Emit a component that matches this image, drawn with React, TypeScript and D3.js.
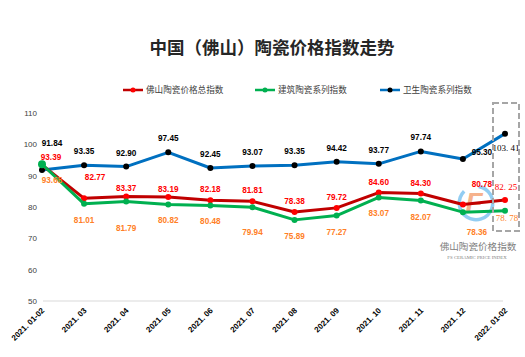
import React from "react";
import * as d3 from "d3";

const categories = ["2021.01-02", "2021.03", "2021.04", "2021.05", "2021.06", "2021.07", "2021.08", "2021.09", "2021.10", "2021.11", "2021.12", "2022.01-02"];
const totalIndex = [93.39, 82.77, 83.37, 83.19, 82.18, 81.81, 78.38, 79.72, 84.60, 84.30, 80.78, 82.25];
const buildingIndex = [93.65, 81.01, 81.79, 80.82, 80.48, 79.94, 75.89, 77.27, 83.07, 82.07, 78.36, 78.78];
const sanitaryIndex = [91.84, 93.35, 92.90, 97.45, 92.45, 93.07, 93.35, 94.42, 93.77, 97.74, 95.30, 103.41];
const yTicks = [50, 60, 70, 80, 90, 100, 110];
const seriesNames = ["佛山陶瓷价格总指数", "建筑陶瓷系列指数", "卫生陶瓷系列指数"];

const W = 525, H = 357;

type Series = {
  name: string; values: number[]; line: string; marker: string; label: string;
  dy: number; over: Record<number, [number, number]>;
};

const series: Series[] = [
  { name: seriesNames[2], values: sanitaryIndex, line: "#0070C0", marker: "#000000", label: "#000000", dy: -14,
    over: { 0: [10, -27], 10: [19, -7], 11: [1, 14] } },
  { name: seriesNames[0], values: totalIndex, line: "#C00000", marker: "#FF0000", label: "#FF0000", dy: -11,
    over: { 0: [9, -8], 1: [11, -21], 2: [0, -8], 3: [0, -8], 10: [19, -21], 11: [1, -13] } },
  { name: seriesNames[1], values: buildingIndex, line: "#00B050", marker: "#00B050", label: "#FF7F27", dy: 16,
    over: { 0: [10, 16], 2: [0, 27], 5: [0, 25], 10: [14, 20], 11: [2, 7] } },
];

const fmt = (v: number, i: number) => (i === 11 ? v.toFixed(2).replace(".", ". ") : v.toFixed(2));

export default function App() {
  const x = d3.scalePoint<string>().domain(categories).range([42, 505]);
  const y = d3.scaleLinear().domain([50, 110]).range([301, 113]);
  const line = d3.line<number>().x((_, i) => x(categories[i])!).y((d) => y(d));
  const arc = d3.arc()({ innerRadius: 15, outerRadius: 18.5, startAngle: Math.PI * 0.05, endAngle: Math.PI * 1.75 }) as string;

  const legendItems = [
    { s: series[1], x0: 123 },
    { s: series[2], x0: 255 },
    { s: series[0], x0: 380 },
  ];

  return (
    <svg width={W} height={H} viewBox={`0 0 ${W} ${H}`}
      style={{ position: "absolute", left: 0, top: 0, background: "#fff", fontFamily: "'Liberation Sans', Arial, sans-serif" }}>
      <rect width={W} height={H} fill="#fff" />
      <text x={272} y={54} textAnchor="middle" fontSize={17.5} fontWeight="bold" fill="#262626"
        style={{ fontFamily: "'Noto Sans CJK SC', sans-serif" }}>中国（佛山）陶瓷价格指数走势</text>

      {legendItems.map(({ s, x0 }) => (
        <g key={s.name}>
          <line x1={x0} x2={x0 + 20} y1={90} y2={90} stroke={s.line} strokeWidth={2.5} />
          <circle cx={x0 + 10} cy={90} r={2.5} fill={s.marker} />
          <text x={x0 + 23} y={93.2} fontSize={8.6} fill="#404040"
            style={{ fontFamily: "'Noto Sans CJK SC', sans-serif" }}>{s.name}</text>
        </g>
      ))}

      <line x1={43} x2={503} y1={y(50)} y2={y(50)} stroke="#D9D9D9" strokeWidth={1} />
      {yTicks.map((t) => (
        <text key={t} x={37} y={y(t) + 3} textAnchor="end" fontSize={8} fill="#404040">{t}</text>
      ))}

      {categories.map((c) => (
        <text key={c} transform={`translate(${x(c)! + 3},${311}) rotate(-45)`} textAnchor="end"
          fontSize={8} fontWeight="bold" fill="#000">{c.replace(".", ". ")}</text>
      ))}

      {/* watermark logo */}
      <g transform="translate(476,203)">
        <path d={arc} fill="#7FC4F0" opacity={0.85} />
        <text x={-2} y={9} textAnchor="middle" fontSize={28} fontStyle="italic" fontWeight="bold" fill="#F5A070" opacity={0.8}>F</text>
      </g>
      <text x={478} y={250} textAnchor="middle" fontSize={9.6} fill="#808080"
        style={{ fontFamily: "'Noto Sans CJK SC', sans-serif" }}>佛山陶瓷价格指数</text>
      <text x={477} y={259} textAnchor="middle" fontSize={4.8} fill="#808080"
        style={{ fontFamily: "'Liberation Serif', serif" }}>FS CERAMIC PRICE INDEX</text>

      {series.map((s) => (
        <g key={s.name}>
          <path d={line(s.values)!} fill="none" stroke={s.line} strokeWidth={3} strokeLinejoin="round" />
          {s.values.map((v, i) => (
            <circle key={i} cx={x(categories[i])!} cy={y(v)} r={i === 0 && s.marker === "#00B050" ? 4 : 3} fill={s.marker} />
          ))}
        </g>
      ))}
      {series.map((s) => (
        <g key={s.name + "l"}>
          {s.values.map((v, i) => {
            const [dx, dy] = s.over[i] ?? [0, s.dy];
            const last = i === 11;
            return (
              <text key={i} x={x(categories[i])! + dx} y={y(v) + dy + 3} textAnchor="middle"
                fontSize={last ? 9 : 8.2} fontWeight={last ? "normal" : "bold"} fill={s.label}
                style={last ? { fontFamily: "'Liberation Serif', serif" } : undefined}>{fmt(v, i)}</text>
            );
          })}
        </g>
      ))}

      <rect x={493} y={103} width={26} height={128} fill="none" stroke="#A6A6A6" strokeWidth={2} strokeDasharray="6,3" />
    </svg>
  );
}
